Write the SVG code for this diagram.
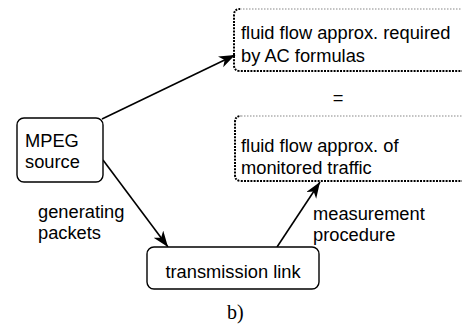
<svg xmlns="http://www.w3.org/2000/svg" width="462" height="325" viewBox="0 0 462 325">
  <defs>
    <marker id="arrow" markerUnits="userSpaceOnUse" markerWidth="18" markerHeight="14" refX="16" refY="6" orient="auto">
      <path d="M0,0 L16,6 L0,12 L4.5,6 z" fill="#000"/>
    </marker>
    <style>
      .lbl { font-family: "Liberation Sans", Arial, sans-serif; font-size: 18.3px; fill: #000; }
      .box { fill: #fff; stroke: #000; stroke-width: 1.4; }
      .dot-light { fill: none; stroke: #888; stroke-width: 1.2; stroke-dasharray: 1.5 1.5; }
      .dot-dark { fill: none; stroke: #000; stroke-width: 2; stroke-dasharray: 2 1.2; }
      .edge { fill: none; stroke: #000; stroke-width: 1.6; marker-end: url(#arrow); }
    </style>
  </defs>
  <rect width="462" height="325" fill="#fff"/>

  <!-- connectors -->
  <g id="connectors">
    <line class="edge" x1="102" y1="119" x2="235" y2="55"/>
    <line class="edge" x1="103" y1="160" x2="168" y2="247"/>
    <line class="edge" x1="277" y1="247" x2="320" y2="182"/>
  </g>

  <!-- fluid flow approximation required by the AC formulas -->
  <g id="ac-approx">
    <path class="dot-light" d="M240,9 H470"/>
    <path class="dot-dark" d="M470,71 H240 Q234,71 234,65 V15 Q234,9 240,9"/>
    <text class="lbl" x="241" y="39">fluid flow approx. required</text>
    <text class="lbl" x="241" y="62">by AC formulas</text>
  </g>

  <text id="equals" class="lbl" x="338" y="104" text-anchor="middle">=</text>

  <!-- fluid flow approximation of monitored traffic -->
  <g id="monitored-approx">
    <path class="dot-light" d="M241,116 H470"/>
    <path class="dot-dark" d="M470,181 H241 Q235,181 235,175 V122 Q235,116 241,116"/>
    <text class="lbl" x="241" y="152">fluid flow approx. of</text>
    <text class="lbl" x="241" y="174">monitored traffic</text>
  </g>

  <!-- MPEG source -->
  <g id="mpeg-source">
    <rect class="box" x="17" y="118" width="86" height="64" rx="7"/>
    <text class="lbl" x="25" y="147">MPEG</text>
    <text class="lbl" x="25" y="168">source</text>
  </g>

  <!-- transmission link -->
  <g id="transmission-link">
    <rect class="box" x="147" y="247" width="172" height="42" rx="7"/>
    <text class="lbl" x="233" y="278" text-anchor="middle">transmission link</text>
  </g>

  <g id="edge-labels">
    <text class="lbl" x="38" y="218">generating</text>
    <text class="lbl" x="38" y="239">packets</text>
    <text class="lbl" x="313" y="220">measurement</text>
    <text class="lbl" x="313" y="241">procedure</text>
  </g>

  <text x="227" y="319" font-family="'Liberation Serif', 'Times New Roman', serif" font-size="20px">b)</text>
</svg>
